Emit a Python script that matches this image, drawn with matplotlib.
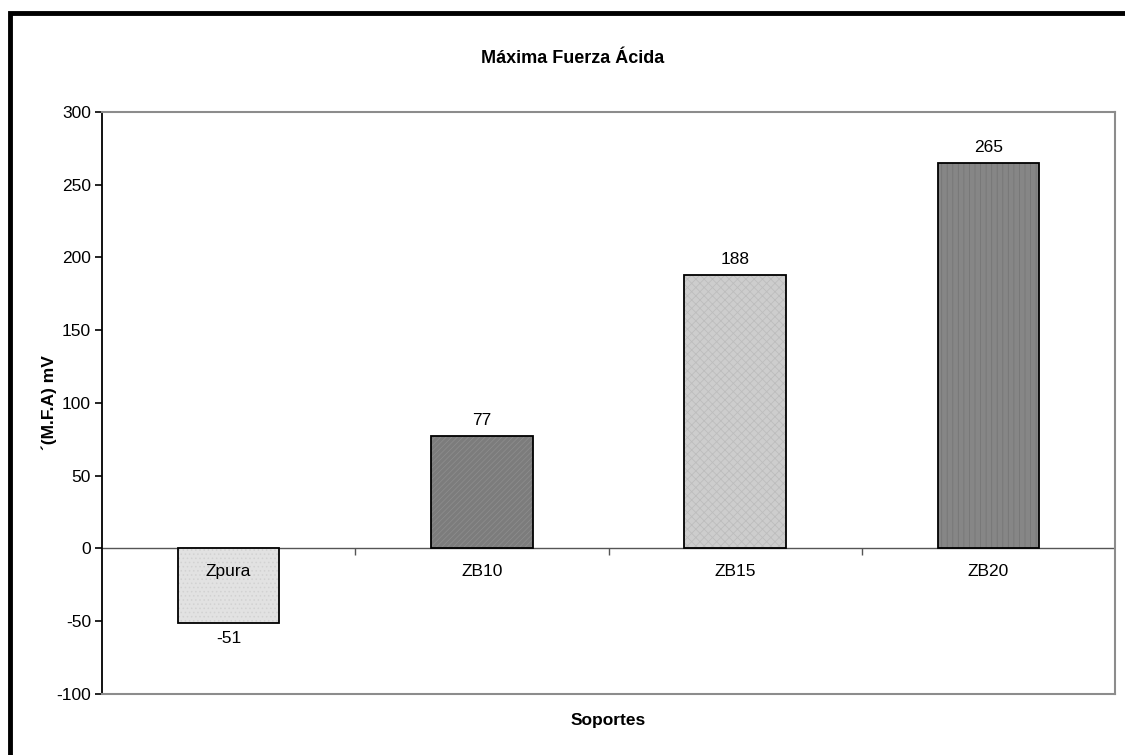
import matplotlib.pyplot as plt
from matplotlib.patches import Rectangle

plt.rcParams['font.family'] = ['Liberation Sans', 'DejaVu Sans']
plt.rcParams['axes.unicode_minus'] = False
plt.rcParams['hatch.linewidth'] = 0.6

soportes = ['Zpura', 'ZB10', 'ZB15', 'ZB20']
mfa = [-51, 77, 188, 265]
yticks = [-100, -50, 0, 50, 100, 150, 200, 250, 300]

face = ['#e2e2e2', '#7c7c7c', '#cdcdcd', '#868686']
hatch_col = ['#d2d2d2', '#8c8c8c', '#bdbdbd', '#767676']
hatches = ['....', '//////', 'xxxx', '|||']

fs = 12.5

fig = plt.figure(figsize=(11.25, 7.55), dpi=100)
ax = fig.add_axes([0.0907, 0.0808, 0.9004, 0.7709])

x = list(range(len(soportes)))
# filled bars with their texture, then a black outline on top
ax.bar(x, mfa, width=0.4, color=face, linewidth=0, zorder=2)
for xi, v, h, hc in zip(x, mfa, hatches, hatch_col):
    ax.bar(xi, v, width=0.4, color='none', edgecolor=hc, hatch=h, linewidth=0, zorder=3)
ax.bar(x, mfa, width=0.4, color='none', edgecolor='black', linewidth=1.3, zorder=4)

# value labels
for xi, v in zip(x, mfa):
    off = 6 if v >= 0 else -6
    ax.annotate(str(v), (xi, v), xytext=(0, off), textcoords='offset points',
                ha='center', va='bottom' if v >= 0 else 'top', fontsize=fs)

# category names sit just under the zero line
for xi, name in zip(x, soportes):
    ax.annotate(name, (xi, 0), xytext=(0, -11), textcoords='offset points',
                ha='center', va='top', fontsize=fs, zorder=5)

ax.axhline(0, color='#555555', linewidth=1.0, zorder=1)
ax.plot([0.5, 1.5, 2.5], [0, 0, 0], linestyle='none', marker=3,
        markersize=5, color='#555555', markeredgewidth=1.0, zorder=1)

ax.set_xlim(-0.5, 3.5)
ax.set_ylim(-100, 300)
ax.set_yticks(yticks)
ax.set_xticks([])
ax.tick_params(axis='y', direction='out', length=5, width=1.2, labelsize=fs, pad=3)

for side in ['top', 'right', 'bottom']:
    ax.spines[side].set_color('#8c8c8c')
    ax.spines[side].set_linewidth(1.5)
ax.spines['left'].set_color('black')
ax.spines['left'].set_linewidth(1.3)

ax.set_ylabel('´(M.F.A) mV', fontsize=fs, fontweight='bold')
ax.yaxis.set_label_coords(-0.044, 0.5)
ax.set_xlabel('Soportes', fontsize=fs, fontweight='bold', labelpad=14)
fig.text(0.509, 0.923, 'Máxima Fuerza Ácida', ha='center', va='center',
         fontsize=fs + 0.5, fontweight='bold')

# outer chart frame (only left and top edges fall inside the image)
fig.patches.append(Rectangle((0.0089, -0.05), 1.2, 1.0326, transform=fig.transFigure,
                             fill=False, edgecolor='black', linewidth=3.5))

fig.savefig('out.png', dpi=100)
